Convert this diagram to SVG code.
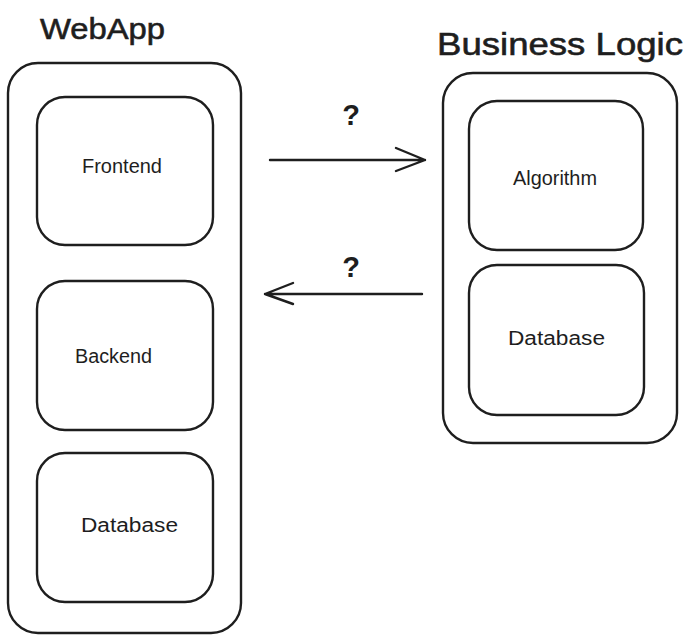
<svg xmlns="http://www.w3.org/2000/svg" width="688" height="635" viewBox="0 0 688 635">
<style>
.box{fill:none;stroke:#1e1e1e;stroke-width:2.4;stroke-linecap:round;stroke-linejoin:round}
.lbl{font-family:"Liberation Sans","DejaVu Sans",sans-serif;font-size:20px;fill:#1e1e1e}
.ttl{font-family:"Liberation Sans","DejaVu Sans",sans-serif;fill:#1e1e1e;stroke:#1e1e1e;stroke-width:0.6}
.q{font-family:"Liberation Sans","DejaVu Sans",sans-serif;font-size:29px;font-weight:bold;fill:#1e1e1e;text-anchor:middle}
.arr{fill:none;stroke:#1e1e1e;stroke-width:2.4;stroke-linecap:round;stroke-linejoin:round}
</style>
<rect width="688" height="635" fill="#ffffff"/>
<g id="webapp">
<text class="ttl" x="40" y="39" font-size="30" textLength="125" lengthAdjust="spacingAndGlyphs">WebApp</text>
<rect class="box" x="8" y="63" width="233" height="570" rx="30"/>
</g>
<g id="frontend">
<rect class="box" x="37" y="97" width="176" height="148" rx="28"/>
<text class="lbl" x="82" y="173" textLength="80" lengthAdjust="spacingAndGlyphs">Frontend</text>
</g>
<g id="backend">
<rect class="box" x="37" y="281" width="176" height="149" rx="28"/>
<text class="lbl" x="75" y="363" textLength="77" lengthAdjust="spacingAndGlyphs">Backend</text>
</g>
<g id="database-left">
<rect class="box" x="37" y="453" width="176" height="149" rx="28"/>
<text class="lbl" x="81" y="532" textLength="97" lengthAdjust="spacingAndGlyphs">Database</text>
</g>
<g id="business-logic">
<text class="ttl" x="437" y="55" font-size="32" textLength="246" lengthAdjust="spacingAndGlyphs">Business Logic</text>
<rect class="box" x="443" y="73" width="234" height="370" rx="30"/>
</g>
<g id="algorithm">
<rect class="box" x="469" y="101" width="174" height="149" rx="28"/>
<text class="lbl" x="513" y="185" textLength="84" lengthAdjust="spacingAndGlyphs">Algorithm</text>
</g>
<g id="database-right">
<rect class="box" x="469" y="265" width="175" height="150" rx="28"/>
<text class="lbl" x="508" y="345" textLength="97" lengthAdjust="spacingAndGlyphs">Database</text>
</g>
<g id="connectors">
<path class="arr" d="M270 160 L425 160 M396 148 L425 160 L396 171"/>
<text class="q" x="351" y="125">?</text>
<path class="arr" d="M422 294 L265 294 M293 283 L265 294 L293 304"/>
<text class="q" x="351" y="277">?</text>
</g>
</svg>
